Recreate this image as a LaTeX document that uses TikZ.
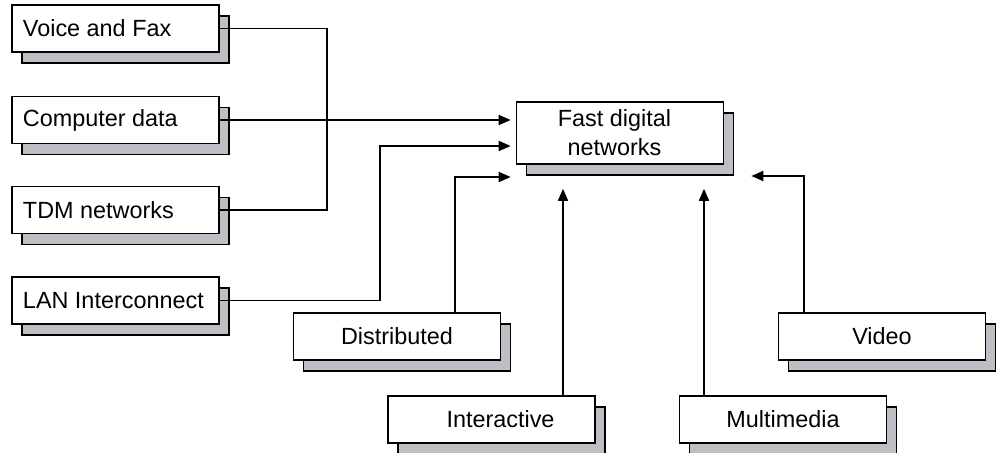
\documentclass[tikz,border=0pt]{standalone}
\usepackage{fontspec}
\setmainfont{Liberation Sans}
\usetikzlibrary{arrows.meta,shadows}
\definecolor{shadowgray}{RGB}{190,191,196}
\newcommand*{\boxW}{103.5pt}
\newcommand*{\boxH}{23.5pt}

\begin{document}
\begin{tikzpicture}[x=0.5pt,y=-0.5pt,
    box/.style={draw, fill=white, line width=0.8pt, minimum width=\boxW,
      minimum height=\boxH, inner sep=0pt,
      font=\fontsize{11.7}{14.5}\selectfont,
      copy shadow={shadow xshift=5pt, shadow yshift=-5.5pt,
        fill=shadowgray, draw=black, line width=0.8pt}},
    source/.style={box, text width=\boxW, align=flush left,
      execute at begin node={\hspace*{5.5pt}}},
    link/.style={line width=0.8pt},
    feed/.style={link, -{Triangle[length=6pt,width=5pt]}, shorten >=2.5pt}]
    \useasboundingbox (0,0) rectangle (997,453);

    % sources on the left
    \node[source] (voice) at (115.5,28.5) {Voice and Fax};
    \node[source] (computer) at (115.5,120) {Computer data};
    \node[source] (tdm) at (115.5,210) {TDM networks};
    \node[source] (lan) at (115.5,300.5) {LAN Interconnect};

    \node[box, minimum height=31pt, align=center] (fast) at (620,133)
      {\hspace*{-5.5pt}Fast digital\\\hspace*{-5.5pt}networks};

    % applications below
    \node[box] (distributed) at (397,336.5) {Distributed};
    \node[box] (interactive) at (491.5,419.5) {\hspace*{9pt}Interactive};
    \node[box] (multimedia) at (783,419.5) {Multimedia};
    \node[box] (video) at (882,336.5) {Video};

    \draw[link] (voice.east) -- ++(107,0) |- (tdm.east);
    \draw[feed] (computer.east) -- (computer.east -| fast.west);
    \draw[feed] (lan.east) -- ++(160,0) |- ([yshift=-6.5pt]fast.west);
    \draw[feed] ([xshift=29pt]distributed.north) |- ([yshift=-22pt]fast.west);
    \draw[feed, shorten >=12pt] ([xshift=35.75pt]interactive.north) -- ([xshift=35.75pt]interactive.north |- fast.south);
    \draw[feed, shorten >=12pt] ([xshift=-39.5pt]multimedia.north) -- ([xshift=-39.5pt]multimedia.north |- fast.south);
    \draw[feed, shorten >=13.5pt] ([xshift=-39pt]video.north) |- ([yshift=-21.5pt]fast.east);
\end{tikzpicture}
\end{document}
